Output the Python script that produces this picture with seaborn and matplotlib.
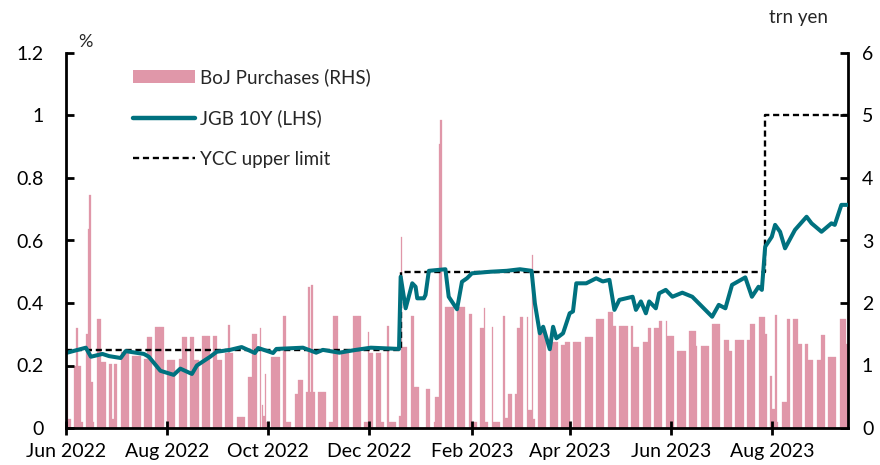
import matplotlib
matplotlib.use("Agg")
import matplotlib.pyplot as plt
import matplotlib.dates as mdates
from matplotlib.patches import Patch
from matplotlib.lines import Line2D
from matplotlib.ticker import FuncFormatter, MultipleLocator
import seaborn as sns
import numpy as np
import pandas as pd

# 10Y JGB yield (%)
jgb_dates = [
    "2022-06-01", "2022-06-13", "2022-06-16", "2022-06-23", "2022-06-27", "2022-07-04",
    "2022-07-07", "2022-07-18", "2022-07-21", "2022-07-28", "2022-08-05", "2022-08-09",
    "2022-08-16", "2022-08-19", "2022-08-27", "2022-08-31", "2022-09-08", "2022-09-15",
    "2022-09-23", "2022-09-25", "2022-10-04", "2022-10-06", "2022-10-22", "2022-10-30",
    "2022-11-03", "2022-11-13", "2022-11-23", "2022-12-02", "2022-12-19", "2022-12-20",
    "2022-12-23", "2022-12-27", "2022-12-29", "2022-12-30", "2023-01-03", "2023-01-04",
    "2023-01-06", "2023-01-16", "2023-01-18", "2023-01-23", "2023-01-26", "2023-01-29",
    "2023-02-01", "2023-02-12", "2023-02-22", "2023-03-02", "2023-03-09", "2023-03-11",
    "2023-03-14", "2023-03-16", "2023-03-20", "2023-03-22", "2023-03-24", "2023-03-28",
    "2023-04-01", "2023-04-03", "2023-04-05", "2023-04-11", "2023-04-17", "2023-04-21",
    "2023-04-25", "2023-04-28", "2023-05-01", "2023-05-09", "2023-05-11", "2023-05-14",
    "2023-05-17", "2023-05-19", "2023-05-23", "2023-05-25", "2023-05-29", "2023-06-02",
    "2023-06-08", "2023-06-14", "2023-06-20", "2023-06-26", "2023-06-30", "2023-07-04",
    "2023-07-08", "2023-07-16", "2023-07-20", "2023-07-24", "2023-07-26", "2023-07-28",
    "2023-08-01", "2023-08-03", "2023-08-06", "2023-08-09", "2023-08-15", "2023-08-22",
    "2023-08-25", "2023-08-31", "2023-09-06", "2023-09-08", "2023-09-12", "2023-09-16",
]
jgb_vals = [
    0.240, 0.257, 0.228, 0.237, 0.230, 0.224,
    0.246, 0.237, 0.228, 0.183, 0.170, 0.190,
    0.173, 0.200, 0.228, 0.244, 0.250, 0.259,
    0.240, 0.256, 0.240, 0.253, 0.257, 0.241,
    0.250, 0.241, 0.250, 0.257, 0.253, 0.484,
    0.383, 0.463, 0.452, 0.415, 0.415, 0.426,
    0.503, 0.508, 0.420, 0.380, 0.468, 0.479,
    0.495, 0.500, 0.503, 0.508, 0.503, 0.399,
    0.303, 0.324, 0.252, 0.324, 0.287, 0.303,
    0.367, 0.373, 0.463, 0.463, 0.479, 0.469,
    0.474, 0.378, 0.410, 0.420, 0.378, 0.405,
    0.367, 0.405, 0.383, 0.431, 0.442, 0.420,
    0.433, 0.420, 0.388, 0.356, 0.394, 0.383,
    0.458, 0.482, 0.420, 0.452, 0.442, 0.580,
    0.612, 0.650, 0.628, 0.575, 0.634, 0.676,
    0.655, 0.628, 0.655, 0.650, 0.714, 0.714,
]

# YCC upper limit (%)
ycc_dates = ["2022-06-01", "2022-12-20", "2023-07-28", "2023-09-16"]
ycc_vals = [0.25, 0.5, 1.0, 1.0]

# BoJ JGB purchases (trn yen): each amount holds on business days until the next date
buy_dates = [
    "2022-05-30", "2022-06-02", "2022-06-06", "2022-06-07", "2022-06-08", "2022-06-10",
    "2022-06-13", "2022-06-14", "2022-06-15", "2022-06-16", "2022-06-17", "2022-06-20",
    "2022-06-22", "2022-06-27", "2022-06-29", "2022-06-30", "2022-07-04", "2022-07-11",
    "2022-07-18", "2022-07-20", "2022-07-25", "2022-08-01", "2022-08-08", "2022-08-10",
    "2022-08-15", "2022-08-17", "2022-08-22", "2022-08-29", "2022-08-31", "2022-09-05",
    "2022-09-07", "2022-09-08", "2022-09-12", "2022-09-19", "2022-09-21", "2022-09-26",
    "2022-09-27", "2022-09-28", "2022-09-29", "2022-09-30", "2022-10-03", "2022-10-10",
    "2022-10-12", "2022-10-17", "2022-10-19", "2022-10-24", "2022-10-25", "2022-10-26",
    "2022-10-27", "2022-10-28", "2022-11-07", "2022-11-09", "2022-11-14", "2022-11-21",
    "2022-11-28", "2022-11-30", "2022-12-01", "2022-12-08", "2022-12-12", "2022-12-13",
    "2022-12-19", "2022-12-20", "2022-12-21", "2022-12-26", "2022-12-28", "2023-01-02",
    "2023-01-04", "2023-01-09", "2023-01-10", "2023-01-12", "2023-01-13", "2023-01-16",
    "2023-01-30", "2023-02-01", "2023-02-06", "2023-02-08", "2023-02-09", "2023-02-13",
    "2023-02-14", "2023-02-20", "2023-02-21", "2023-02-23", "2023-02-28", "2023-03-02",
    "2023-03-07", "2023-03-09", "2023-03-10", "2023-03-13", "2023-03-20", "2023-03-27",
    "2023-03-29", "2023-04-03", "2023-04-10", "2023-04-17", "2023-04-24", "2023-04-27",
    "2023-05-09", "2023-05-15", "2023-05-18", "2023-05-25", "2023-05-30", "2023-06-05",
    "2023-06-12", "2023-06-16", "2023-06-26", "2023-07-03", "2023-07-06", "2023-07-10",
    "2023-07-19", "2023-07-24", "2023-07-28", "2023-07-31", "2023-08-01", "2023-08-03",
    "2023-08-04", "2023-08-07", "2023-08-10", "2023-08-17", "2023-08-23", "2023-08-31",
    "2023-09-04", "2023-09-11", "2023-09-15",
]
buy_vals = [
    0.95, 0.15, 1.00, 1.60, 1.00, 0.10,
    1.50, 3.18, 3.73, 0.74, 0.10, 1.75,
    1.05, 1.03, 0.15, 1.03, 1.22, 1.15,
    1.10, 1.46, 1.62, 1.09, 1.10, 1.46,
    1.46, 1.09, 1.47, 1.47, 1.09, 1.20,
    1.65, 1.20, 0.18, 0.82, 1.51, 1.60,
    0.37, 0.20, 0.87, 0.10, 1.14, 1.80,
    0.10, 0.55, 0.77, 0.58, 2.25, 0.58,
    2.29, 0.58, 0.10, 1.80, 1.20, 1.80,
    0.10, 1.54, 1.20, 0.10, 1.64, 0.10,
    0.20, 3.05, 1.30, 1.80, 0.66, 0.00,
    0.62, 0.10, 0.50, 4.55, 4.93, 1.94,
    1.83, 0.10, 1.60, 1.92, 0.10, 1.62,
    0.10, 1.80, 0.16, 0.55, 1.60, 1.78,
    0.29, 2.77, 0.15, 1.57, 1.38, 1.33,
    1.38, 1.37, 1.46, 1.74, 1.85, 1.64,
    1.29, 1.37, 1.60, 1.72, 1.47, 1.23,
    1.56, 1.31, 1.67, 1.41, 1.24, 1.41,
    1.67, 1.77, 1.50, 0.83, 0.31, 1.81,
    0.10, 0.42, 1.75, 1.34, 1.09, 1.49,
    1.14, 1.75, 1.34,
]

pink = "#E097A9"
teal = "#00717F"

days = pd.date_range("2022-05-30", "2023-09-15", freq="D")
daily = pd.Series(buy_vals, index=pd.to_datetime(buy_dates)).reindex(days).ffill()
daily[daily.index.dayofweek >= 5] = 0.0
# bar centred on the middle of each day
bars = pd.DataFrame({"day": mdates.date2num(days) + 0.5, "amount": daily.values})

sns.set_theme(style="white")
plt.rcParams['font.family'] = ['Lato', 'DejaVu Sans']

fig = plt.figure(figsize=(8.8, 4.65), dpi=100)
ax = fig.add_axes([66 / 880, 1 - 428 / 465, (848 - 66) / 880, (428 - 53) / 465])
ax2 = ax.twinx()
ax.set_zorder(ax2.get_zorder() + 1)
ax.patch.set_visible(False)

# purchases as daily bars on the right axis
sns.barplot(data=bars, x="day", y="amount", native_scale=True, orient="x", width=1,
            errorbar=None, ax=ax2, color=pink, saturation=1, edgecolor=pink, linewidth=0.2)

# yield and YCC limit on the left axis
sns.lineplot(x=mdates.date2num(pd.to_datetime(ycc_dates)), y=ycc_vals, ax=ax,
             color="black", linewidth=1.7, linestyle=(0, (2.6, 1.6)), drawstyle="steps-post")
sns.lineplot(x=mdates.date2num(pd.to_datetime(jgb_dates)), y=jgb_vals, ax=ax,
             color=teal, linewidth=2.9)

x0 = mdates.date2num(pd.Timestamp("2022-06-01"))
x1 = mdates.date2num(pd.Timestamp("2023-09-16"))
ax.set_xlim(x0, x1)
ax2.set_xlim(x0, x1)
ax.set_ylim(0, 1.2)
ax2.set_ylim(0, 6)
ax.set_xlabel("")
ax.set_ylabel("")
ax2.set_xlabel("")
ax2.set_ylabel("")

ax.xaxis.set_major_locator(mdates.MonthLocator(bymonth=[2, 4, 6, 8, 10, 12]))
ax.xaxis.set_major_formatter(mdates.DateFormatter("%b %Y"))
ax.yaxis.set_major_locator(MultipleLocator(0.2))
ax.yaxis.set_major_formatter(FuncFormatter(lambda v, p: f"{v:g}"))
ax2.yaxis.set_major_locator(MultipleLocator(1))
ax2.yaxis.set_major_formatter(FuncFormatter(lambda v, p: f"{v:g}"))

for a in (ax, ax2):
    a.spines["top"].set_visible(False)
    for s in ("left", "right", "bottom"):
        a.spines[s].set_color("black")
        a.spines[s].set_linewidth(2)
ax.spines["right"].set_visible(False)
ax2.spines["left"].set_visible(False)
ax2.spines["bottom"].set_visible(False)

ax.tick_params(axis="y", direction="in", length=6, width=2, labelsize=14, pad=16,
               left=True, colors="black")
ax.tick_params(axis="x", direction="inout", length=10, width=2, labelsize=14, pad=6,
               bottom=True, colors="black")
ax2.tick_params(axis="y", direction="in", length=6, width=2, labelsize=14, pad=10,
                right=True, colors="black")

fig.text(78 / 880, 1 - 42 / 465, "%", fontsize=13, ha="left", va="center")
fig.text(828 / 880, 1 - 18 / 465, "trn yen", fontsize=13.5, ha="right", va="center")

handles = [
    Patch(facecolor=pink, edgecolor="none"),
    Line2D([], [], color=teal, linewidth=3.2),
    Line2D([], [], color="black", linewidth=1.7, linestyle=(0, (2.6, 1.6))),
]
labels = ["BoJ Purchases (RHS)", "JGB 10Y (LHS)", "YCC upper limit"]
fig.legend(handles, labels, loc="upper left", bbox_to_anchor=(133 / 880, 1 - 68 / 465),
           frameon=False, fontsize=13.5, handlelength=3.3, handletextpad=0.3,
           labelspacing=1.25, borderpad=0, borderaxespad=0)

fig.savefig("out.png", dpi=100)
